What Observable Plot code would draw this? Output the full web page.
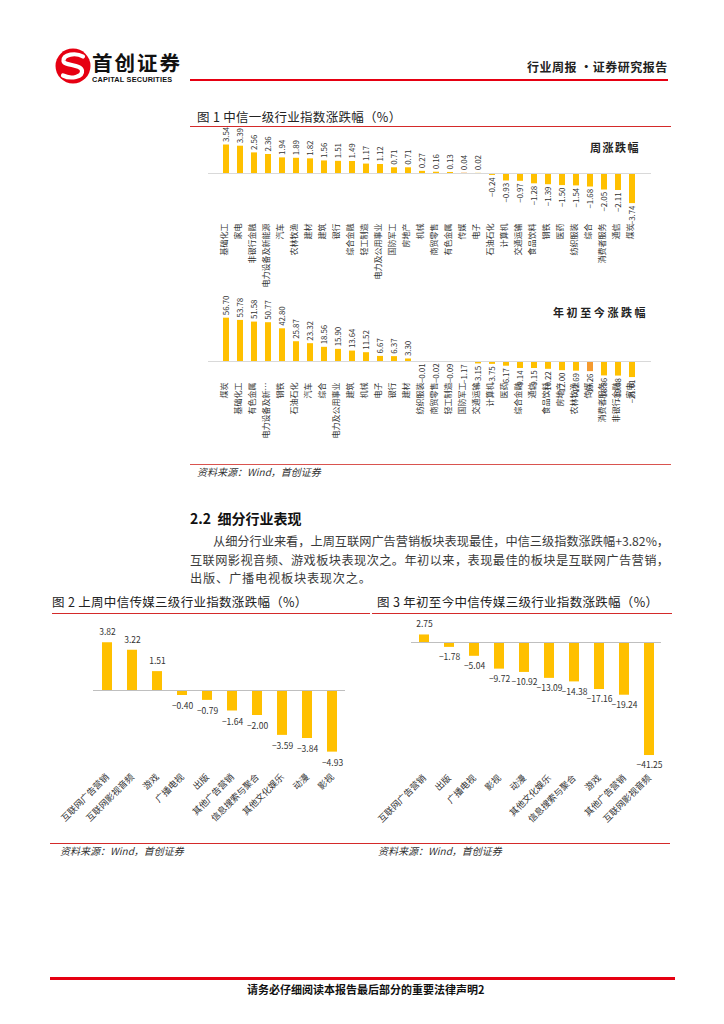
<!DOCTYPE html>
<html><head><meta charset="utf-8">
<script src="https://cdn.jsdelivr.net/npm/d3@7"></script>
<script src="https://cdn.jsdelivr.net/npm/@observablehq/plot@0.6"></script>
<style>
body{margin:0;background:#fff;}
#page{position:relative;width:724px;height:1024px;overflow:hidden;font-family:"Noto Sans CJK SC","Noto Sans",sans-serif;color:#222;background:#fff;}
.abs{position:absolute;white-space:nowrap;line-height:1;}
.chart{position:absolute;}
.chart svg{overflow:visible;display:block;}
.rule{position:absolute;background:#d42a2a;}
.title{font-size:12.5px;color:#222;letter-spacing:0.3px;}
.src{font-size:10px;font-style:italic;color:#333;font-family:"Noto Sans CJK SC","Liberation Serif",serif;}
.para{font-size:12.2px;color:#3a3a3a;text-align:justify;text-align-last:justify;}
</style></head>
<body><div id="page">
<!-- header -->
<svg class="abs" style="left:54px;top:47px" width="40" height="40" viewBox="0 0 40 40">
  <circle cx="19" cy="19" r="17.5" fill="#e60012"/>
  <path d="M29 9.5 C22 5.5 9 7 9.5 14 C10 19 27 17 28 23.5 C29 30 17 32.5 9 28.5" fill="none" stroke="#fff" stroke-width="4.2" stroke-linecap="round"/>
</svg>
<div class="abs" style="left:92px;top:52px;font-size:20.5px;font-weight:700;letter-spacing:2px;color:#111">首创证券</div>
<div class="abs" style="left:92px;top:76px;font-size:7.3px;font-weight:700;font-family:'Liberation Sans',Arial,sans-serif;color:#111;letter-spacing:0.2px">CAPITAL SECURITIES</div>
<div class="rule" style="left:190px;top:79px;width:478px;height:2px;background:#e60012"></div>
<div class="abs" style="left:527px;top:61px;font-size:12px;font-weight:700;color:#222;letter-spacing:0.5px">行业周报 ·证券研究报告</div>

<!-- figure 1 -->
<div class="abs title" style="left:197px;top:111px">图 1 中信一级行业指数涨跌幅（%）</div>
<div class="rule" style="left:190px;top:125.5px;width:481px;height:1.6px"></div>
<div id="c1" class="chart" style="left:190px;top:126px"></div>
<div class="abs" style="left:590px;top:142px;font-size:11px;font-weight:700;letter-spacing:1.5px;color:#222">周涨跌幅</div>
<div id="c2" class="chart" style="left:190px;top:292px"></div>
<div class="abs" style="left:553px;top:307px;font-size:11px;font-weight:700;letter-spacing:2.6px;color:#222">年初至今涨跌幅</div>
<div class="rule" style="left:190px;top:463.5px;width:481px;height:1.6px;background:#d9534f"></div>
<div class="abs src" style="left:197px;top:467px">资料来源：Wind，首创证券</div>

<!-- section -->
<div class="abs" style="left:190px;top:511px;font-size:14px;font-weight:700;color:#111">2.2&nbsp;&nbsp;细分行业表现</div>
<div class="abs para" style="left:213px;top:535px;width:456px">从细分行业来看，上周互联网广告营销板块表现最佳，中信三级指数涨跌幅+3.82%，</div>
<div class="abs para" style="left:190px;top:554px;width:479px">互联网影视音频、游戏板块表现次之。年初以来，表现最佳的板块是互联网广告营销，</div>
<div class="abs para" style="left:190px;top:572px;text-align:left;text-align-last:left;letter-spacing:0.8px">出版、广播电视板块表现次之。</div>

<!-- figure 2 & 3 -->
<div class="abs title" style="left:52px;top:596px">图 2 上周中信传媒三级行业指数涨跌幅（%）</div>
<div class="rule" style="left:52px;top:612.5px;width:318px;height:1.6px"></div>
<div id="c3" class="chart" style="left:52px;top:615px"></div>
<div class="abs title" style="left:377px;top:596px">图 3 年初至今中信传媒三级行业指数涨跌幅（%）</div>
<div class="rule" style="left:372px;top:612.5px;width:300px;height:1.6px"></div>
<div id="c4" class="chart" style="left:375px;top:615px"></div>
<div class="rule" style="left:50px;top:842.5px;width:620px;height:1.3px"></div>
<div class="abs src" style="left:60px;top:846px">资料来源：Wind，首创证券</div>
<div class="abs src" style="left:378px;top:846px">资料来源：Wind，首创证券</div>

<!-- footer -->
<div class="rule" style="left:50px;top:977px;width:625px;height:3px;background:#e60012"></div>
<div class="abs" style="left:247px;top:984px;font-size:11px;font-weight:700;color:#111">请务必仔细阅读本报告最后部分的重要法律声明2</div>
</div>
<script>
// ---------- data ----------
const weeklyNames = ["基础化工","家电","非银行金融","电力设备及新能源","汽车","农林牧渔","建材","建筑","银行","综合金融","轻工制造","电力及公用事业","国防军工","房地产","机械","商贸零售","有色金属","传媒","电子","石油石化","计算机","交通运输","食品饮料","钢铁","医药","纺织服装","综合","消费者服务","通信","煤炭"];
const weeklyValues = [3.54,3.39,2.56,2.36,1.94,1.89,1.82,1.56,1.51,1.49,1.17,1.12,0.71,0.71,0.27,0.16,0.13,0.04,0.02,-0.24,-0.93,-0.97,-1.28,-1.39,-1.50,-1.54,-1.68,-2.05,-2.11,-3.74];

const ytdNames = ["煤炭","基础化工","有色金属","电力设备及新能源","钢铁","石油石化","汽车","综合","电力及公用事业","建筑","机械","电子","银行","建材","纺织服装","商贸零售","轻工制造","国防军工","交通运输","计算机","医药","综合金融","通信","食品饮料","房地产","农林牧渔","传媒","消费者服务","非银行金融","家电"];
const ytdValues = [56.70,53.78,51.58,50.77,42.80,25.87,23.32,18.56,15.90,13.64,11.52,6.67,6.37,3.30,-0.01,-0.02,-0.09,-1.17,-3.15,-3.75,-6.17,-9.14,-9.15,-10.22,-12.00,-12.69,-13.26,-18.86,-19.08,-21.01];

const weekMediaNames = ["互联网广告营销","互联网影视音频","游戏","广播电视","出版","其他广告营销","信息搜索与聚合","其他文化娱乐","动漫","影视"];
const weekMediaValues = [3.82,3.22,1.51,-0.40,-0.79,-1.64,-2.00,-3.59,-3.84,-4.93];

const ytdMediaNames = ["互联网广告营销","出版","广播电视","影视","动漫","其他文化娱乐","信息搜索与聚合","游戏","其他广告营销","互联网影视音频"];
const ytdMediaValues = [2.75,-1.78,-5.04,-9.72,-10.92,-13.09,-14.38,-17.16,-19.24,-41.25];

const highlightName = "传媒";
const YELLOW = "#FFC000", ORANGE = "#F59A2E";
const FONT = '"Noto Sans CJK SC","Noto Sans",sans-serif';

function chart(o) {
  const data = o.names.map((n, i) => ({name: n, value: o.values[i]}));
  const fmt = d3.format(".2f");
  const vertical = o.labelRotate === -90;
  const catFormat = o.tickFormat || (d => d);
  const marks = [
    Plot.barY(data, {x: "name", y: "value", fill: d => d.name === highlightName ? ORANGE : YELLOW}),
    Plot.ruleY([0], {stroke: o.zero, strokeWidth: 1}),
    Plot.text(data.filter(d => d.value >= 0), {x: "name", y: "value", text: d => fmt(d.value),
      rotate: vertical ? -90 : 0, textAnchor: vertical ? "start" : "middle", dy: o.posDy,
      fontSize: o.valFont, fill: "#333"}),
    Plot.text(data.filter(d => d.value < 0), {x: "name", y: "value", text: d => fmt(d.value),
      rotate: vertical ? -90 : 0, textAnchor: vertical ? "end" : "middle", dy: o.negDy,
      fontSize: o.valFont, fill: "#333"})
  ];
  if (vertical) {
    // category labels hung from the bottom of the frame, reading upward
    marks.push(Plot.text(data, {x: "name", frameAnchor: "bottom", text: d => catFormat(d.name),
      rotate: -90, textAnchor: "end", dy: o.tickPad, fontSize: o.tickFont, fill: "#333"}));
  }
  return Plot.plot({
    width: o.width, height: o.height,
    marginTop: 0, marginLeft: o.ml, marginRight: o.mr, marginBottom: o.mb,
    style: {fontFamily: FONT, fontSize: o.tickFont + "px", color: "#333", background: "transparent", overflow: "visible"},
    x: vertical
      ? {domain: o.names, paddingInner: o.pad, paddingOuter: o.pad / 2, axis: null}
      : {domain: o.names, paddingInner: o.pad, paddingOuter: o.pad / 2, tickSize: 0, tickPadding: o.tickPad,
         tickRotate: o.tickRotate, label: null, tickFormat: catFormat},
    y: {domain: o.yDomain, axis: null},
    color: {type: "identity"},
    marks
  });
}

// weekly CITIC level-1 (zero at 47, label top at 95, 8.05px/unit)
document.getElementById("c1").append(chart({
  names: weeklyNames, values: weeklyValues, width: 482, height: 170, ml: 18, mr: 21, mb: 75,
  yDomain: [-48 / 8.05, 47 / 8.05], pad: 0.56, tickPad: 2, tickRotate: -90, tickFont: 8,
  labelRotate: -90, posDy: -3, negDy: 2, valFont: 7.8, zero: "#d9d9d9"
}));
// YTD CITIC level-1 (zero at 69, label top at 88, 0.764px/unit)
document.getElementById("c2").append(chart({
  names: ytdNames, values: ytdValues, width: 482, height: 172, ml: 18, mr: 21, mb: 84,
  yDomain: [-19 / 0.764, 69 / 0.764], pad: 0.56, tickPad: 2, tickRotate: -90, tickFont: 8,
  tickFormat: d => d.length > 7 ? d.slice(0, 6) + "…" : d,
  labelRotate: -90, posDy: -3, negDy: 2, valFont: 7.8, zero: "#d9d9d9"
}));
// weekly media level-3
document.getElementById("c3").append(chart({
  names: weekMediaNames, values: weekMediaValues, width: 320, height: 215, ml: 41, mr: 27, mb: 58,
  yDomain: [-82 / 12.5, 75 / 12.5], pad: 0.6, tickPad: 3, tickRotate: -45, tickFont: 9,
  labelRotate: 0, posDy: -10, negDy: 11, valFont: 8.5, zero: "#bfbfbf"
}));
// YTD media level-3
document.getElementById("c4").append(chart({
  names: ytdMediaNames, values: ytdMediaValues, width: 300, height: 215, ml: 36, mr: 14, mb: 57,
  yDomain: [-131 / 2.74, 27 / 2.74], pad: 0.6, tickPad: 3, tickRotate: -45, tickFont: 9,
  labelRotate: 0, posDy: -11, negDy: 10, valFont: 8.5, zero: "#bfbfbf"
}));
</script>
</body></html>
